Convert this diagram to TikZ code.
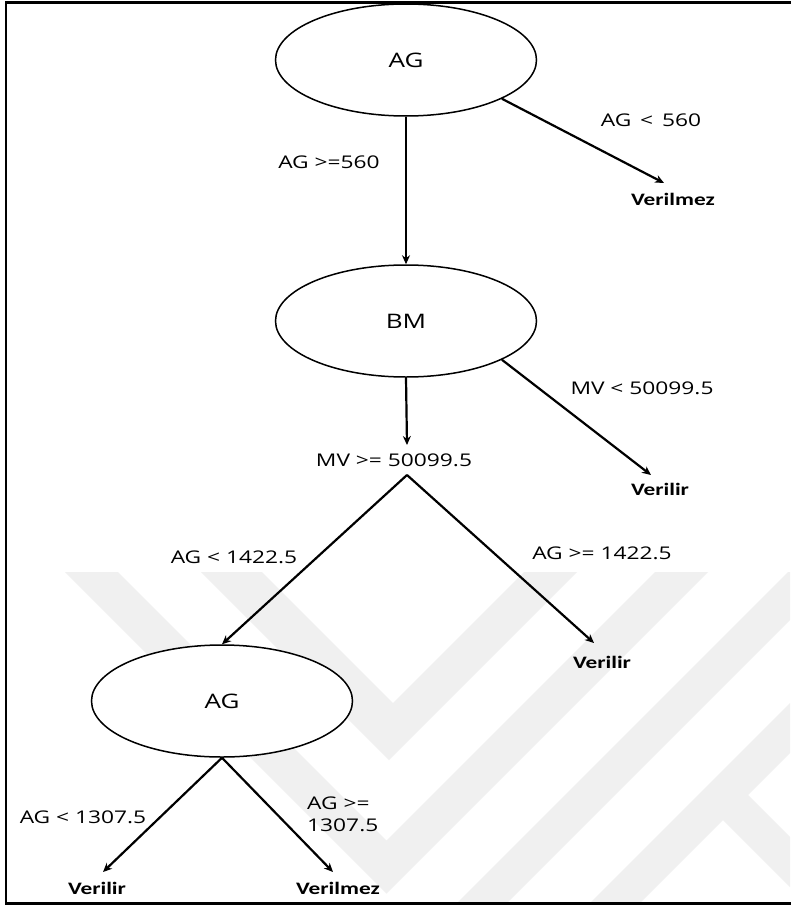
\documentclass[tikz,border=0pt]{standalone}
\usepackage{fontspec}
\usetikzlibrary{arrows.meta,shapes.geometric}
\newfontfamily\labfont[FakeStretch=1.3]{Open Sans}
\newfontfamily\leaffont[FakeStretch=1.33]{Carlito}
\definecolor{wmark}{gray}{0.94}
\tikzset{
  decision/.style={ellipse, draw, line width=1.5pt, fill=white,
    minimum width=261pt, minimum height=112pt, inner sep=0pt,
    font=\labfont\fontsize{20}{22}\selectfont},
  cond/.style={inner sep=0pt, font=\labfont\fontsize{17.5}{22}\selectfont},
  leaf/.style={inner sep=0pt, font=\leaffont\bfseries\fontsize{17.5}{20}\selectfont},
  arr/.style={line width=2.2pt, -{Stealth[length=9pt,width=8pt]}},
}
\begin{document}
\begin{tikzpicture}[x=1pt,y=-1pt]
\useasboundingbox (0,0) rectangle (790,907);
\fill[white] (0,0) rectangle (790,907);

% faint chevron bands in the background
\begin{scope}
  \clip (7,4) rectangle (790,902);
  \fill[wmark] (65,572) -- (118,572) -- (386.5,840.5) -- (655,572) -- (708,572)
               -- (386.5,893.5) -- cycle;
  \fill[wmark] (201,572) -- (262,572) -- (393,703) -- (524,572) -- (577,572)
               -- (389,760) -- cycle;
  \fill[wmark] (788,572) -- (838,572) -- (507,903) -- (457,903) -- cycle;
  \fill[wmark] (790,703) -- (590,903) -- (640,903) -- (723,820) -- (790,887)
               -- (790,837) -- (748,795) -- (790,753) -- cycle;
\end{scope}

% frame
\draw[line width=2.5pt] (6,2.5) rectangle (800,903.5);

% decision nodes
\node[decision] (root) at (406,60) {AG};
\node[decision] (bm)   at (406,321) {BM};
\node[decision] (ag2)  at (222,701) {AG};

% leaves
\node[leaf] (l1) at (673,199) {Verilmez};
\node[leaf] (l2) at (660,489) {Verilir};
\node[leaf] (l3) at (602,662) {Verilir};
\node[leaf] (l4) at (97,888)  {Verilir};
\node[leaf] (l5) at (338,888) {Verilmez};

% arrow ends
\coordinate (t1) at (664,183);
\coordinate (t2) at (407,445);
\coordinate (t3) at (651,475);
\coordinate (sp) at (407,475);
\coordinate (t4) at (594,643);
\coordinate (t5) at (103,872);
\coordinate (t6) at (333,872);

% conditions
\node[cond] (c1) at (329,162) {AG >=560};
\node[cond] (c2) at (651,120) {AG \,<\, 560};
\node[cond] (c3) at (642,388) {MV < 50099.5};
\node[cond] (c4) at (394,460) {MV >= 50099.5};
\node[cond] (c5) at (234,557) {AG < 1422.5};
\node[cond] (c6) at (602,553) {AG >= 1422.5};
\node[cond] (c7) at (83,817)  {AG < 1307.5};
\node[cond, anchor=west, align=left] (c8) at (307,814) {AG >=\\1307.5};

% connectors
\draw[arr] (root.south) -- (bm.north);
\draw[arr] (root.-22) -- (t1);
\draw[arr] (bm.south) -- (t2);
\draw[arr] (bm.-22) -- (t3);
\draw[arr] (sp) -- (ag2.north);
\draw[arr] (sp) -- (t4);
\draw[arr] (ag2.south) -- (t5);
\draw[arr] (ag2.south) -- (t6);
\end{tikzpicture}
\end{document}
